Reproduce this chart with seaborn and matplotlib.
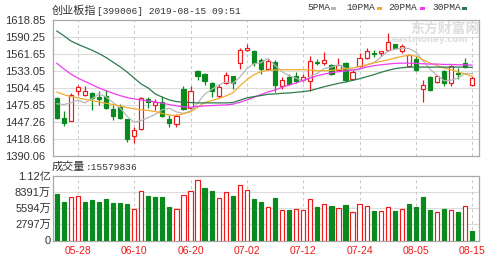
import numpy as np
import pandas as pd
import matplotlib
matplotlib.use("Agg")
import matplotlib.pyplot as plt
import seaborn as sns
from matplotlib.patches import Rectangle

# ---------------- data ----------------
dates = ["05-23", "05-24", "05-27", "05-28", "05-29", "05-30", "05-31", "06-03", "06-04", "06-05",
         "06-06", "06-10", "06-11", "06-12", "06-13", "06-14", "06-17", "06-18", "06-19", "06-20",
         "06-21", "06-24", "06-25", "06-26", "06-27", "06-28", "07-01", "07-02", "07-03", "07-04",
         "07-05", "07-08", "07-09", "07-10", "07-11", "07-12", "07-15", "07-16", "07-17", "07-18",
         "07-19", "07-22", "07-23", "07-24", "07-25", "07-26", "07-29", "07-30", "07-31", "08-01",
         "08-02", "08-05", "08-06", "08-07", "08-08", "08-09", "08-12", "08-13", "08-14", "08-15"]

open_ = [1487.7, 1453.2, 1448.7, 1498.9, 1493.3, 1496.1, 1488.9, 1490.6, 1469.4, 1472.1,
         1451.5, 1423.6, 1434.8, 1486.0, 1476.0, 1481.1, 1452.6, 1444.3, 1503.4, 1471.0,
         1532.4, 1527.9, 1512.9, 1490.6, 1512.9, 1524.0, 1546.3, 1568.6, 1567.0, 1550.8,
         1536.3, 1548.0, 1507.3, 1522.9, 1524.0, 1518.4, 1515.6, 1547.4, 1545.8, 1543.5,
         1535.2, 1546.3, 1520.1, 1540.8, 1554.7, 1563.1, 1562.5, 1569.2, 1578.1, 1565.9,
         1540.8, 1553.0, 1503.4, 1522.3, 1514.0, 1533.5, 1512.9, 1529.6, 1546.3, 1509.0]
high = [1488.9, 1465.5, 1496.1, 1510.1, 1507.3, 1497.2, 1500.0, 1501.1, 1476.6, 1477.7,
        1452.6, 1438.7, 1490.0, 1488.9, 1485.5, 1490.6, 1458.2, 1461.0, 1507.3, 1507.3,
        1535.2, 1529.0, 1514.0, 1511.2, 1531.3, 1525.1, 1572.5, 1578.1, 1568.1, 1554.7,
        1553.0, 1550.8, 1522.3, 1527.9, 1531.3, 1527.9, 1557.5, 1553.0, 1564.2, 1544.7,
        1554.7, 1547.4, 1535.2, 1563.1, 1571.4, 1568.6, 1567.5, 1596.5, 1579.2, 1578.1,
        1561.4, 1557.5, 1517.9, 1524.0, 1526.8, 1535.2, 1543.5, 1538.0, 1554.7, 1524.0]
low = [1452.0, 1440.4, 1448.2, 1493.3, 1490.6, 1468.2, 1476.6, 1469.4, 1449.8, 1452.6,
       1413.6, 1411.9, 1434.2, 1471.0, 1467.1, 1455.4, 1438.7, 1438.7, 1468.2, 1468.2,
       1518.4, 1510.1, 1488.9, 1487.7, 1511.2, 1503.4, 1536.8, 1567.0, 1540.8, 1527.9,
       1534.1, 1497.2, 1503.4, 1509.0, 1512.9, 1514.5, 1498.9, 1542.4, 1543.5, 1526.8,
       1533.5, 1514.0, 1518.4, 1539.1, 1553.0, 1555.8, 1557.5, 1568.1, 1571.4, 1563.6,
       1539.1, 1532.4, 1481.1, 1500.0, 1512.9, 1507.3, 1508.4, 1520.1, 1537.5, 1508.4]
close = [1453.2, 1445.9, 1493.3, 1505.6, 1498.9, 1487.7, 1485.5, 1471.0, 1457.1, 1453.2,
         1418.0, 1433.1, 1487.7, 1481.6, 1480.8, 1457.1, 1444.8, 1457.1, 1469.9, 1498.9,
         1525.1, 1516.8, 1500.0, 1505.6, 1526.8, 1512.9, 1568.6, 1571.4, 1546.3, 1536.3,
         1549.1, 1509.0, 1518.4, 1511.7, 1516.8, 1522.9, 1549.1, 1545.8, 1551.9, 1527.9,
         1543.5, 1518.4, 1531.3, 1554.7, 1567.0, 1561.4, 1565.9, 1581.5, 1572.5, 1575.3,
         1559.2, 1535.2, 1509.0, 1501.7, 1524.0, 1512.9, 1540.8, 1527.4, 1539.5, 1521.2]

ma5 = [1478.0, 1476.6, 1479.4, 1484.0, 1479.4, 1486.3, 1494.2, 1489.7, 1480.0, 1470.9,
       1457.0, 1446.5, 1449.8, 1454.7, 1460.2, 1468.0, 1470.3, 1464.2, 1461.9, 1465.6,
       1479.2, 1493.6, 1502.1, 1509.3, 1514.9, 1512.4, 1522.8, 1537.1, 1545.2, 1547.1,
       1554.3, 1542.4, 1531.8, 1524.9, 1521.0, 1515.8, 1523.8, 1529.3, 1537.3, 1539.5,
       1543.6, 1537.5, 1534.6, 1535.2, 1543.0, 1546.6, 1556.1, 1566.1, 1569.7, 1571.3,
       1570.9, 1564.7, 1550.2, 1536.1, 1525.8, 1516.6, 1517.7, 1521.4, 1529.0, 1528.6]
ma10 = [1497.8, 1493.3, 1490.0, 1487.8, 1485.5, 1483.3, 1481.1, 1478.8, 1476.6, 1474.4,
        1471.6, 1469.4, 1467.7, 1466.6, 1464.9, 1461.5, 1458.8, 1458.2, 1461.0, 1464.3,
        1472.1, 1480.0, 1483.3, 1486.6, 1491.1, 1496.1, 1507.9, 1518.4, 1526.8, 1531.8,
        1534.1, 1534.6, 1535.2, 1535.2, 1535.2, 1535.2, 1534.6, 1533.5, 1533.5, 1534.1,
        1535.2, 1536.8, 1538.0, 1540.8, 1543.5, 1546.9, 1549.1, 1551.9, 1554.7, 1557.5,
        1559.7, 1558.0, 1551.9, 1546.3, 1542.4, 1538.0, 1535.2, 1531.3, 1527.9, 1524.0]
ma20 = [1546.3, 1536.8, 1527.9, 1521.2, 1515.6, 1510.1, 1504.5, 1500.0, 1495.6, 1491.7,
        1488.3, 1486.1, 1484.4, 1482.7, 1481.1, 1478.8, 1476.6, 1474.4, 1472.7, 1472.1,
        1473.3, 1474.4, 1474.9, 1475.5, 1476.0, 1477.2, 1480.5, 1484.4, 1488.9, 1493.3,
        1497.8, 1501.2, 1505.6, 1509.5, 1512.9, 1517.3, 1521.2, 1525.1, 1527.9, 1530.2,
        1531.8, 1533.0, 1534.6, 1536.8, 1539.6, 1541.9, 1543.5, 1544.7, 1545.8, 1546.3,
        1546.3, 1545.8, 1545.2, 1544.7, 1544.7, 1544.1, 1544.1, 1543.5, 1543.5, 1543.0]
ma30 = [1600.4, 1592.6, 1583.7, 1578.1, 1573.1, 1568.1, 1562.5, 1555.8, 1548.0, 1540.2,
        1531.3, 1521.2, 1511.2, 1504.5, 1494.5, 1488.9, 1484.4, 1481.6, 1480.5, 1480.0,
        1479.4, 1479.4, 1479.4, 1479.4, 1479.4, 1480.0, 1483.9, 1487.8, 1490.0, 1491.7,
        1493.9, 1494.5, 1495.6, 1496.1, 1497.3, 1498.4, 1500.0, 1503.4, 1506.7, 1509.5,
        1512.3, 1514.5, 1517.3, 1520.1, 1523.5, 1526.8, 1530.7, 1534.1, 1536.9, 1538.5,
        1539.6, 1539.6, 1539.6, 1539.6, 1539.6, 1539.6, 1539.6, 1539.6, 1539.6, 1539.1]

# volume in units of 10k (万)
volume = [8016, 6574, 7555, 7670, 6690, 6978, 6574, 7151, 6401, 6401,
          6228, 5421, 8477, 7670, 7555, 7555, 5709, 5421, 7843, 8477,
          10438, 8996, 8535, 7324, 8304, 7670, 9573, 8651, 7151, 6690,
          5709, 7324, 5248, 5248, 5421, 5248, 7151, 5709, 6228, 5940,
          5536, 6055, 4902, 6228, 5940, 5075, 5075, 5709, 5075, 5421,
          6228, 5709, 7497, 5248, 4902, 5421, 5248, 4902, 5940, 1558]

price_ticks = [1390.06, 1418.66, 1447.26, 1475.85, 1504.45, 1533.05, 1561.65, 1590.25, 1618.85]
price_tick_labels = ["1390.06", "1418.66", "1447.26", "1475.85", "1504.45",
                     "1533.05", "1561.65", "1590.25", "1618.85"]
vol_ticks = [0, 2797, 5594, 8391, 11188]
vol_tick_labels = ["0", "2797万", "5594万", "8391万", "1.12亿"]
date_labels = ["05-28", "06-10", "06-20", "07-02", "07-12", "07-24", "08-05", "08-15"]
ma_names = ["5PMA", "10PMA", "20PMA", "30PMA"]

title_cn = "创业板指"
title_rest = "[399006] 2019-08-15 09:51"
vol_title_cn = "成交量"
vol_title_rest = ":15579836"

# ---------------- style ----------------
sns.set_style("white")
plt.rcParams["font.family"] = ["Liberation Sans", "Noto Sans CJK SC", "DejaVu Sans"]
plt.rcParams["axes.unicode_minus"] = False

RED = "#f01818"
GREEN = "#0a8a1e"
MA_COLORS = ["#b8b8b8", "#f2ab2e", "#f03cf0", "#2c7a4c"]
GRID = "#dcdcdc"
FRAME = "#a8a8a8"
TXT = "#333333"

W, H = 499, 260
fig = plt.figure(figsize=(W / 100, H / 100), dpi=100)
fig.patch.set_facecolor("white")


def rect(x0, y0, x1, y1):
    return [x0 / W, 1 - y1 / H, (x1 - x0) / W, (y1 - y0) / H]


ax = fig.add_axes(rect(53, 20, 479, 156))
axv = fig.add_axes(rect(53, 175.5, 479, 240.5))

df = pd.DataFrame({"date": dates, "open": open_, "high": high, "low": low,
                   "close": close, "ma5": ma5, "ma10": ma10, "ma20": ma20,
                   "ma30": ma30, "volume": volume})
df["idx"] = np.arange(len(df))
tick_idx = [dates.index(d) for d in date_labels]

# ---------------- price panel ----------------
for i, r in df.iterrows():
    o, c, hi, lo = r["open"], r["close"], r["high"], r["low"]
    up = c >= o
    col = RED if up else GREEN
    bot, top = min(o, c), max(o, c)
    hgt = max(top - bot, 0.8)
    ax.vlines(i, top, hi, color=col, lw=0.9, zorder=2)
    ax.vlines(i, lo, bot, color=col, lw=0.9, zorder=2)
    ax.bar(i, hgt, bottom=bot, width=0.6, facecolor="white" if up else col,
           edgecolor=col, linewidth=0.85, zorder=3)

for name, colr in zip(["ma5", "ma10", "ma20", "ma30"], MA_COLORS):
    sns.lineplot(data=df, x="idx", y=name, color=colr, linewidth=0.9, ax=ax, zorder=4)

ax.set_xlim(-0.52, 59.95)
ax.set_ylim(price_ticks[0], price_ticks[-1])
ax.set_yticks(price_ticks)
ax.set_yticklabels(price_tick_labels)
ax.set_xticks(tick_idx)
ax.set_xticklabels([])
ax.set_xlabel("")
ax.set_ylabel("")
ax.grid(False)
for y in price_ticks[1:-1]:
    ax.axhline(y, color=GRID, lw=0.8, zorder=0)
for x in tick_idx:
    ax.axvline(x, color="#c8c8c8", lw=0.7, ls=(0, (3, 3)), zorder=0)
ax.tick_params(axis="y", length=4, width=0.8, color=FRAME, pad=1.5,
               labelsize=8, labelcolor=TXT)
ax.tick_params(axis="x", length=0)
for s in ax.spines.values():
    s.set_color(FRAME)
    s.set_linewidth(0.9)

# watermark
ax.text(410 / W, 1 - 29 / H, "东方财富网", transform=fig.transFigure,
        family=["Noto Sans CJK SC"], fontsize=10, fontweight="bold",
        color="#dedede", va="center", ha="left", zorder=1)
ax.text(392 / W, 1 - 40 / H, "eastmoney.com", transform=fig.transFigure,
        family=["DejaVu Sans"], fontsize=6.2, fontweight="bold",
        color="#dedede", va="center", ha="left", zorder=1)

# ---------------- volume panel ----------------
chg_up = np.r_[False, np.diff(np.array(close)) > 0]
df["dir"] = np.where(chg_up, "up", "down")
sns.barplot(data=df, x="idx", y="volume", hue="dir", hue_order=["up", "down"],
            palette={"up": RED, "down": GREEN}, native_scale=True, dodge=False,
            width=0.6, legend=False, ax=axv, zorder=3)
for cont, lab in zip(axv.containers, ["up", "down"]):
    for p in cont.patches:
        if lab == "up":
            p.set_facecolor("white")
            p.set_edgecolor(RED)
        else:
            p.set_facecolor(GREEN)
            p.set_edgecolor(GREEN)
        p.set_linewidth(0.85)

axv.set_xlim(-0.52, 59.95)
axv.set_ylim(0, vol_ticks[-1])
axv.set_yticks(vol_ticks)
axv.set_yticklabels(vol_tick_labels)
axv.set_xticks(tick_idx)
axv.set_xticklabels(date_labels)
axv.set_xlabel("")
axv.set_ylabel("")
axv.grid(False)
for y in vol_ticks[1:-1]:
    axv.axhline(y, color=GRID, lw=0.8, zorder=0)
for x in tick_idx:
    axv.axvline(x, color="#c8c8c8", lw=0.7, ls=(0, (3, 3)), zorder=0)
axv.tick_params(axis="y", length=0, pad=1.5, labelsize=8, labelcolor=TXT)
axv.tick_params(axis="x", length=0, pad=4, labelsize=7.5, labelcolor=RED)
for s in axv.spines.values():
    s.set_color(FRAME)
    s.set_linewidth(0.9)

# ---------------- texts ----------------
fig.text(52 / W, 1 - 11 / H, title_cn, family=["Noto Sans CJK SC"], fontsize=8,
         va="center", ha="left", color=TXT)
fig.text(97 / W, 1 - 11 / H, title_rest, family=["Liberation Mono"], fontsize=6.8,
         va="center", ha="left", color=TXT)
fig.text(52 / W, 1 - 167 / H, vol_title_cn, family=["Noto Sans CJK SC"], fontsize=8,
         va="center", ha="left", color=TXT)
fig.text(86 / W, 1 - 167 / H, vol_title_rest, family=["Liberation Mono"], fontsize=6.8,
         va="center", ha="left", color=TXT)

leg_x = [307, 346, 388, 432]
mark_x = [331, 377, 420, 462]
for name, lx, mx, colr in zip(ma_names, leg_x, mark_x, MA_COLORS):
    fig.text(lx / W, 1 - 8 / H, name, family=["Liberation Mono"], fontsize=6.8,
             va="center", ha="left", color=TXT)
    fig.patches.append(Rectangle((mx / W, 1 - 9.5 / H), 5 / W, 3 / H,
                                 transform=fig.transFigure, facecolor=colr,
                                 edgecolor="none"))

fig.savefig("out.png", dpi=100)
